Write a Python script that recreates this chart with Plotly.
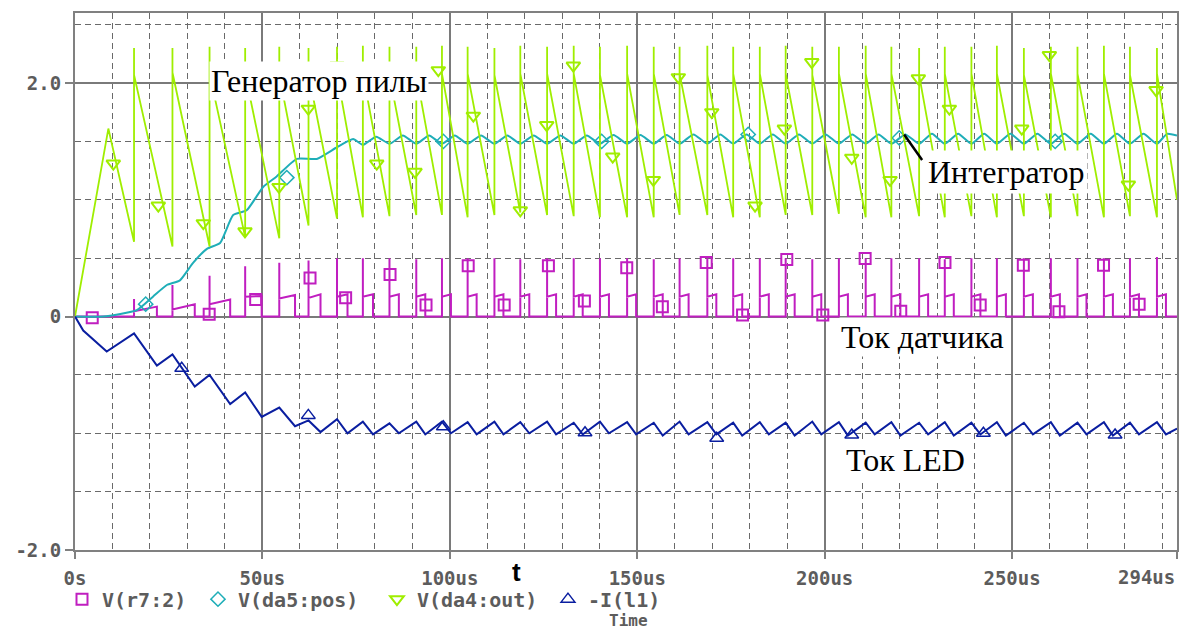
import plotly.graph_objects as go

# ---------------- data ----------------
# time of each sawtooth reset (us); the sensor pulses and the LED-current peaks happen at the same instants
saw_t = [15.75, 26.0, 35.9, 45.4, 54.5, 62.3, 69.9, 76.8, 83.9, 91.05, 97.9, 104.75, 111.9, 118.8,
         125.95, 133.05, 140.05, 147.3, 154.4, 161.3, 168.7, 175.6, 182.7, 189.6, 196.7, 203.8,
         210.95, 217.8, 225.2, 232.05, 239.15, 245.95, 253.15, 260.35, 267.45, 274.5, 281.45, 288.65]
# V(da4:out) sawtooth: trough just before each reset, spike top, start of the falling ramp
saw_low = [0.64, 0.60, 0.60, 0.68, 0.67, 0.78, 0.84, 0.85, 0.86, 0.87, 0.87, 0.85, 0.87, 0.89,
           0.87, 0.86, 0.85, 0.85, 0.85, 0.87, 0.87, 0.85, 0.85, 0.87, 0.87, 0.88, 0.85, 0.85,
           0.86, 0.85, 0.86, 0.85, 0.86, 0.85, 0.86, 0.85, 0.86, 0.85]
saw_peak = [2.30, 2.30, 2.31, 2.30, 2.31, 2.30, 2.31, 2.32, 2.31, 2.31, 2.32, 2.31, 2.30, 2.32,
            2.31, 2.32, 2.31, 2.32, 2.31, 2.31, 2.32, 2.31, 2.31, 2.32, 2.31, 2.31, 2.32, 2.31,
            2.30, 2.31, 2.31, 2.32, 2.30, 2.31, 2.31, 2.32, 2.31, 2.30]
saw_ramp = [2.07, 2.09, 2.08, 2.08, 2.07, 2.08, 2.08, 2.08, 2.07, 2.08, 2.08, 2.08, 2.07, 2.08,
            2.08, 2.08, 2.07, 2.08, 2.08, 2.08, 2.07, 2.08, 2.08, 2.08, 2.07, 2.08, 2.08, 2.08,
            2.07, 2.08, 2.08, 2.08, 2.07, 2.08, 2.08, 2.08, 2.07, 2.08]
saw_start_t = [0.0, 8.9]
saw_start_v = [0.0, 1.61]
saw_end = 1.0

# V(r7:2) sensor pulses: spike height, plateau start/end level, plateau width (us)
pulse_peak = [0.15, 0.27, 0.35, 0.43, 0.46, 0.48, 0.50, 0.50, 0.50, 0.49, 0.50, 0.50, 0.50, 0.49,
              0.50, 0.50, 0.50, 0.50, 0.49, 0.50, 0.50, 0.50, 0.50, 0.50, 0.49, 0.50, 0.50, 0.50,
              0.50, 0.49, 0.50, 0.50, 0.50, 0.50, 0.50, 0.50, 0.50, 0.51]
plat_lo = [0.045, 0.06, 0.105, 0.17, 0.155, 0.16, 0.17, 0.17, 0.17, 0.17, 0.17, 0.17, 0.17, 0.17,
           0.17, 0.17, 0.17, 0.17, 0.17, 0.17, 0.17, 0.17, 0.17, 0.17, 0.17, 0.17, 0.17, 0.17,
           0.17, 0.17, 0.17, 0.17, 0.17, 0.17, 0.17, 0.17, 0.17, 0.17]
plat_hi = [0.085, 0.105, 0.145, 0.175, 0.185, 0.19, 0.19, 0.19, 0.19, 0.19, 0.19, 0.19, 0.19, 0.19,
           0.19, 0.19, 0.19, 0.19, 0.19, 0.19, 0.19, 0.19, 0.19, 0.19, 0.19, 0.19, 0.19, 0.19,
           0.19, 0.19, 0.19, 0.19, 0.19, 0.19, 0.19, 0.19, 0.19, 0.19]
plat_w = [6.1, 5.95, 5.5, 4.4, 4.2, 3.2, 2.8, 2.7, 2.5, 2.4, 2.4, 2.4, 2.4, 2.4, 2.4, 2.4, 2.4, 2.4,
          2.4, 2.4, 2.4, 2.4, 2.4, 2.4, 2.4, 2.4, 2.4, 2.4, 2.4, 2.4, 2.4, 2.4, 2.4, 2.4, 2.4, 2.4,
          2.4, 2.4]

# -I(l1) LED current: value at each reset (local max) and at the end of each pulse (local min)
led_start_t = [0.0, 2.2, 8.46]
led_start_v = [0.0, -0.12, -0.30]
led_hi = [-0.145, -0.325, -0.50, -0.65, -0.78, -0.89, -0.88, -0.90, -0.915, -0.90, -0.90, -0.905,
          -0.90, -0.905, -0.90, -0.91, -0.90, -0.905, -0.91, -0.90, -0.905, -0.91, -0.905, -0.91,
          -0.90, -0.905, -0.91, -0.905, -0.91, -0.905, -0.91, -0.905, -0.91, -0.905, -0.91, -0.905,
          -0.91, -0.905]
led_lo = [-0.42, -0.60, -0.75, -0.86, -0.94, -0.99, -1.0, -1.01, -1.0, -1.01, -1.0, -1.01, -1.01,
          -1.0, -1.01, -1.01, -1.0, -1.01, -1.02, -1.01, -1.01, -1.02, -1.01, -1.02, -1.01, -1.02,
          -1.01, -1.02, -1.01, -1.02, -1.01, -1.02, -1.01, -1.02, -1.01, -1.02, -1.01, -1.01]
led_end = -0.96

# V(da5:pos) integrator: rise, then small ripple (low at each reset, high in between)
int_rise_t = [0, 7.5, 16.5, 20.8, 24.5, 28.0, 31.5, 35.2, 38.7, 42.2, 45.8, 50.2, 53.8, 59.2, 64.5,
              69.9, 74.2]
int_rise_v = [0, 0.0, 0.055, 0.17, 0.27, 0.31, 0.46, 0.58, 0.63, 0.87, 0.91, 1.11, 1.20, 1.35, 1.35,
              1.45, 1.52]
int_low = [1.47, 1.48, 1.48, 1.48, 1.48, 1.48, 1.48, 1.48, 1.48, 1.48, 1.48, 1.48, 1.48, 1.48,
           1.48, 1.48, 1.48, 1.48, 1.48, 1.48, 1.48, 1.48, 1.48, 1.48, 1.48, 1.48, 1.48, 1.48,
           1.48, 1.48, 1.48]
int_high = [1.54, 1.55, 1.55, 1.55, 1.55, 1.55, 1.55, 1.55, 1.55, 1.555, 1.555, 1.555, 1.56, 1.56,
            1.56, 1.56, 1.56, 1.56, 1.56, 1.56, 1.56, 1.565, 1.565, 1.565, 1.565, 1.565, 1.565,
            1.565, 1.565, 1.565, 1.565]
int_end = 1.55

# marker positions on each trace (t in us, value)
mk_r7_t = [4.6, 35.8, 48.2, 62.7, 72.2, 84.05, 93.65, 104.9, 114.5, 126.3, 135.9, 147.2, 156.7,
           168.4, 178.1, 189.9, 199.5, 210.8, 220.3, 232.1, 241.5, 253.0, 262.5, 274.4, 283.9]
mk_r7_v = [-0.01, 0.02, 0.146, 0.33, 0.16, 0.36, 0.098, 0.434, 0.098, 0.434, 0.132, 0.417, 0.083,
           0.463, 0.012, 0.489, 0.012, 0.497, 0.046, 0.463, 0.098, 0.44, 0.04, 0.44, 0.106]
mk_da5_t = [18.86, 56.5, 98.27, 140.5, 179.6, 219.9, 261.5]
mk_da5_v = [0.106, 1.19, 1.50, 1.50, 1.56, 1.53, 1.50]
mk_da4_t = [10.22, 22.23, 34.23, 45.35, 54.43, 62.25, 69.9, 80.5, 90.71, 96.93, 106.27, 118.8,
            125.85, 132.95, 143.46, 154.3, 160.97, 169.88, 181.43, 189.25, 196.56, 207.23, 217.45,
            225.0, 233.27, 252.59, 259.95, 281.03, 288.42]
mk_da4_v = [1.31, 0.95, 0.80, 0.73, 1.11, 1.78, 2.15, 1.31, 1.24, 2.11, 1.72, 0.91, 1.64, 2.15,
            1.37, 1.17, 2.05, 1.75, 0.95, 1.61, 2.18, 1.36, 1.17, 2.04, 1.78, 1.61, 2.24, 1.13, 1.94]
mk_l1_t = [28.47, 62.25, 98.27, 136.07, 171.2, 207.23, 242.35, 277.48]
mk_l1_v = [-0.444, -0.847, -0.944, -0.996, -1.043, -1.015, -1.0, -1.015]

x_ticks = [0, 50, 100, 150, 200, 250, 294]
x_ticktext = ["0s", "50us", "100us", "150us", "200us", "250us", ""]
y_ticks = [-2, 0, 2]
y_ticktext = ["-2.0", "0", "2.0"]
T_END = 294

# ---------------- build polylines from the read vertices ----------------
gx, gy = list(saw_start_t), list(saw_start_v)
for i, t in enumerate(saw_t):
    gx += [t, t, t]
    gy += [saw_low[i], saw_peak[i], saw_ramp[i]]
gx.append(T_END); gy.append(saw_end)

mx, my = [0], [0]
for i, t in enumerate(saw_t):
    w = plat_w[i]
    mx += [t, t, t, t + w, t + w]
    my += [0, pulse_peak[i], plat_lo[i], plat_hi[i], 0]
mx.append(T_END); my.append(0)

bx, by = list(led_start_t), list(led_start_v)
for i, t in enumerate(saw_t):
    bx += [t, t + plat_w[i]]
    by += [led_hi[i], led_lo[i]]
bx.append(T_END); by.append(led_end)

cx, cy = list(int_rise_t), list(int_rise_v)
ripple_t = saw_t[7:]
for k, t in enumerate(ripple_t):
    nxt = ripple_t[k + 1] if k + 1 < len(ripple_t) else T_END
    cx += [t, (t + nxt) / 2]
    cy += [int_low[k], int_high[k]]
cx.append(T_END); cy.append(int_end)

MAG = "#C01EC0"
CYAN = "#1FAEB8"
GREEN = "#9FEE00"
BLUE = "#0A1EA0"
MONO = "DejaVu Sans Mono"
SERIF = "Liberation Serif"
GRID = "#7a7a7a"
TXT = "#5c5c5c"

fig = go.Figure()
fig.add_trace(go.Scatter(x=mx, y=my, mode="lines", line=dict(color=MAG, width=2), showlegend=False,
                         hoverinfo="skip"))
fig.add_trace(go.Scatter(x=mk_r7_t, y=mk_r7_v, mode="markers", name="V(r7:2)", legend="legend",
                         marker=dict(symbol="square-open", size=11, color=MAG, line=dict(width=2))))
fig.add_trace(go.Scatter(x=cx, y=cy, mode="lines", line=dict(color=CYAN, width=2, shape="spline",
                         smoothing=0.5), showlegend=False, hoverinfo="skip"))
fig.add_trace(go.Scatter(x=mk_da5_t, y=mk_da5_v, mode="markers", name="V(da5:pos)", legend="legend2",
                         marker=dict(symbol="diamond-open", size=11, color=CYAN, line=dict(width=1.5))))
fig.add_trace(go.Scatter(x=gx, y=gy, mode="lines", line=dict(color=GREEN, width=1.8), showlegend=False,
                         hoverinfo="skip"))
fig.add_trace(go.Scatter(x=mk_da4_t, y=mk_da4_v, mode="markers", name="V(da4:out)", legend="legend3",
                         marker=dict(symbol="triangle-down-open", size=12, color=GREEN,
                                     line=dict(width=2))))
fig.add_trace(go.Scatter(x=bx, y=by, mode="lines", line=dict(color=BLUE, width=2), showlegend=False,
                         hoverinfo="skip"))
fig.add_trace(go.Scatter(x=mk_l1_t, y=mk_l1_v, mode="markers", name="-I(l1)", legend="legend4",
                         marker=dict(symbol="triangle-up-open", size=12, color=BLUE, line=dict(width=1.5))))

x_minor = [v for v in range(10, 291, 10) if v % 50 != 0]
y_minor = [-1.5, -1.0, -0.5, 0.5, 1.0, 1.5, 2.5]

TICKFONT = dict(family=MONO, size=19, color=TXT, weight="bold")
fig.update_xaxes(range=[0, T_END], tickmode="array", tickvals=x_ticks, ticktext=x_ticktext,
                 showgrid=True, gridcolor=GRID, gridwidth=1.5, zeroline=False,
                 showline=True, mirror=True, linecolor="#808080", linewidth=2,
                 ticks="outside", ticklen=7, tickwidth=2, tickcolor="#808080",
                 ticklabelstandoff=3, automargin=False, tickfont=TICKFONT,
                 minor=dict(tickmode="array", tickvals=x_minor, showgrid=True, griddash="6px,4px",
                            gridcolor="#6a6a6a", gridwidth=1.3, ticks=""))
fig.update_yaxes(range=[-2, 2.6], tickmode="array", tickvals=y_ticks, ticktext=y_ticktext,
                 showgrid=True, gridcolor=GRID, gridwidth=1.5, zeroline=False,
                 showline=True, mirror=True, linecolor="#808080", linewidth=2,
                 ticks="outside", ticklen=8, tickwidth=2, tickcolor="#808080", automargin=False,
                 tickfont=TICKFONT,
                 minor=dict(tickmode="array", tickvals=y_minor, showgrid=True, griddash="6px,4px",
                            gridcolor="#6a6a6a", gridwidth=1.3, ticks=""))

ann_font = dict(family=SERIF, size=32, color="black")
annotations = [
    dict(x=65.1, y=2.02, xref="x", yref="y", text="Генератор пилы", showarrow=False,
         font=ann_font, bgcolor="white", borderpad=1, xanchor="center", yanchor="middle"),
    dict(x=248.4, y=1.236, xref="x", yref="y", text="Интегратор", showarrow=False,
         font=ann_font, bgcolor="white", borderpad=3, xanchor="center", yanchor="middle"),
    dict(x=226.0, y=-0.176, xref="x", yref="y", text="Ток датчика", showarrow=False,
         font=ann_font, bgcolor="white", borderpad=1, xanchor="center", yanchor="middle"),
    dict(x=221.5, y=-1.23, xref="x", yref="y", text="Ток LED", showarrow=False,
         font=ann_font, bgcolor="white", borderpad=1, xanchor="center", yanchor="middle"),
    dict(x=T_END, y=-0.0495, xref="x", yref="paper", text="294us", showarrow=False,
         xanchor="right", yanchor="middle", font=TICKFONT),
    dict(x=0.401, y=-0.041, xref="paper", yref="paper", text="t", showarrow=False,
         xanchor="center", yanchor="middle",
         font=dict(family="Liberation Sans", size=26, color="black", weight="bold")),
    dict(x=0.502, y=-0.132, xref="paper", yref="paper", text="Time", showarrow=False,
         xanchor="center", yanchor="middle",
         font=dict(family=MONO, size=16, color=TXT, weight="bold")),
]

LEGFONT = dict(family=MONO, size=20, color=TXT, weight="bold")
def leg(xpaper):
    return dict(orientation="h", x=xpaper, xanchor="left", y=-0.0915, yanchor="middle",
                font=LEGFONT, bgcolor="rgba(0,0,0,0)", itemclick=False, itemdoubleclick=False)

fig.update_layout(
    width=1179, height=630,
    margin=dict(l=75, r=2, t=13, b=80),
    paper_bgcolor="white", plot_bgcolor="white",
    annotations=annotations,
    shapes=[dict(type="line", xref="x", yref="y", x0=221.2, y0=1.56, x1=226.0, y1=1.34,
                 line=dict(color="black", width=2.5))],
    legend=leg(-0.0118), legend2=leg(0.1116), legend3=leg(0.2740), legend4=leg(0.4292),
    showlegend=True,
)

fig.write_html("out.html")
